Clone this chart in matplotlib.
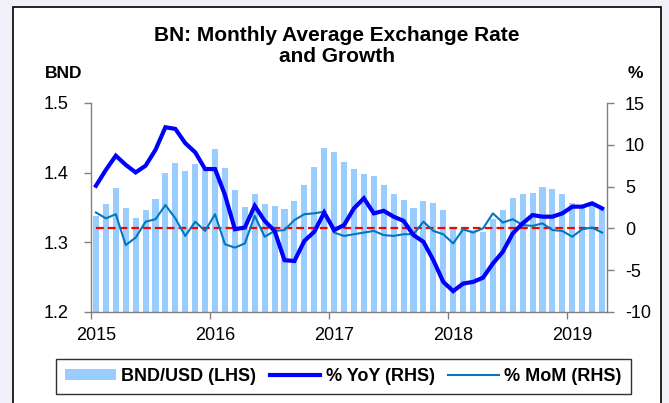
import numpy as np
import matplotlib
matplotlib.use("Agg")
import matplotlib.pyplot as plt
from matplotlib.patches import Rectangle, Patch
from matplotlib.lines import Line2D

plt.rcParams['font.family'] = ['Liberation Sans', 'DejaVu Sans']

# Jan 2015 .. Apr 2019, monthly
year_labels = ['2015', '2016', '2017', '2018', '2019']

bnd_usd = [
    1.338, 1.355, 1.378, 1.350, 1.335, 1.346, 1.362, 1.400, 1.414, 1.402, 1.413, 1.405,
    1.434, 1.406, 1.375, 1.351, 1.370, 1.355, 1.352, 1.348, 1.359, 1.383, 1.408, 1.436,
    1.429, 1.415, 1.405, 1.398, 1.395, 1.383, 1.370, 1.361, 1.350, 1.360, 1.356, 1.346,
    1.321, 1.319, 1.317, 1.315, 1.333, 1.347, 1.363, 1.369, 1.371, 1.379, 1.376, 1.370,
    1.356, 1.353, 1.355, 1.350,
]

yoy = [
    5.1, 7.0, 8.7, 7.6, 6.7, 7.5, 9.4, 12.1, 11.9, 10.2, 9.1, 7.1,
    7.1, 4.0, -0.1, 0.1, 2.7, 0.9, -0.3, -3.8, -3.9, -1.5, -0.4, 1.9,
    -0.2, 0.4, 2.4, 3.6, 1.8, 2.1, 1.4, 0.9, -0.8, -1.6, -3.8, -6.4,
    -7.5, -6.6, -6.4, -5.9, -4.2, -2.8, -0.6, 0.6, 1.6, 1.4, 1.4, 1.8,
    2.6, 2.6, 3.0, 2.4,
]

mom = [
    1.9, 1.2, 1.7, -2.0, -1.1, 0.8, 1.1, 2.8, 1.2, -0.9, 0.8, -0.3,
    1.7, -1.9, -2.3, -1.8, 1.5, -1.0, -0.3, -0.2, 1.0, 1.7, 1.8, 2.0,
    -0.5, -0.9, -0.7, -0.5, -0.3, -0.8, -0.9, -0.7, -0.7, 0.8, -0.3, -0.7,
    -1.8, -0.1, -0.5, 0.0, 1.8, 0.7, 1.1, 0.4, 0.3, 0.6, -0.2, -0.3,
    -1.0, -0.1, 0.1, -0.5,
]

left_ticks = [1.2, 1.3, 1.4, 1.5]
right_ticks = [-10, -5, 0, 5, 10, 15]

W, H = 669, 403
fig = plt.figure(figsize=(W / 100, H / 100), dpi=100, facecolor='#F0F0F8')

# white chart box with black border
fig.patches.append(Rectangle((12.5 / W, -0.1), (661 - 12.5) / W, 1.1 - 7.5 / H,
                             transform=fig.transFigure, facecolor='white',
                             edgecolor='black', lw=1.2, zorder=-1))

ax = fig.add_axes([91 / W, 1 - 312 / H, (607 - 91) / W, (312 - 103) / H])
ax.set_facecolor('none')
ax2 = ax.twinx()

x = np.arange(len(bnd_usd))
ax.bar(x, bnd_usd, width=0.62, color='#99CCFF', zorder=1)
ax.set_ylim(1.2, 1.5)
ax.set_yticks(left_ticks)
ax.set_yticklabels([f'{v:.1f}' for v in left_ticks])
ax.set_xlim(-0.5, len(bnd_usd) - 0.5)

ax2.plot([0, len(bnd_usd) - 1], [0, 0], color='#FF0000', lw=1.6,
         dashes=(3.5, 1.8), zorder=2)
ax2.plot(x, mom, color='#0077C0', lw=1.5, zorder=3)
ax2.plot(x, yoy, color='#0000FF', lw=3.0, zorder=4, solid_joinstyle='miter')
ax2.set_ylim(-10, 15)
ax2.set_yticks(right_ticks)
ax2.set_yticklabels([str(v) for v in right_ticks])

# year ticks at category boundaries, labels under January
ax.set_xticks(np.arange(-0.5, len(bnd_usd), 12))
ax.set_xticklabels([])
ax.set_xticks(np.arange(0, len(bnd_usd), 12), minor=True)
ax.set_xticklabels(year_labels, minor=True)

grey = '#808080'
for a in (ax, ax2):
    a.spines['top'].set_visible(False)
    for s in ('left', 'right', 'bottom'):
        a.spines[s].set_color(grey)
        a.spines[s].set_linewidth(1.0)
ax.spines['right'].set_visible(False)
ax2.spines['left'].set_visible(False)
ax2.spines['bottom'].set_visible(False)

ax.tick_params(axis='y', direction='out', length=5, width=1, color=grey,
               labelsize=13, pad=11)
ax.tick_params(axis='x', which='major', direction='out', length=5, width=1,
               color=grey)
ax.tick_params(axis='x', which='minor', length=0, labelsize=13, pad=11)
ax2.tick_params(axis='y', direction='out', length=5, width=1, color=grey,
                labelsize=13, pad=8)

fig.text(337 / W, 1 - 46 / H, 'BN: Monthly Average Exchange Rate\nand Growth',
         ha='center', va='center', fontsize=15, fontweight='bold', linespacing=1.08)
fig.text(64 / W, 1 - 74 / H, 'BND', ha='center', va='center', fontsize=12.5,
         fontweight='bold')
fig.text(635 / W, 1 - 73 / H, '%', ha='center', va='center', fontsize=12.5,
         fontweight='bold')

handles = [
    Patch(facecolor='#99CCFF', edgecolor='none'),
    Line2D([], [], color='#0000FF', lw=3.0),
    Line2D([], [], color='#0077C0', lw=1.5),
]
labels = ['BND/USD (LHS)', '% YoY (RHS)', '% MoM (RHS)']
leg = fig.legend(handles, labels, loc='center', bbox_to_anchor=(343.5 / W, 1 - 376.5 / H),
                 ncol=3, frameon=True, fancybox=False, framealpha=1,
                 edgecolor='#303030', prop={'weight': 'bold', 'size': 13},
                 handlelength=2.8, handleheight=0.6, handletextpad=0.3,
                 columnspacing=0.75, borderpad=0.5, borderaxespad=0)
leg.get_frame().set_linewidth(1.0)

fig.savefig('out.png', dpi=100, facecolor=fig.get_facecolor())
